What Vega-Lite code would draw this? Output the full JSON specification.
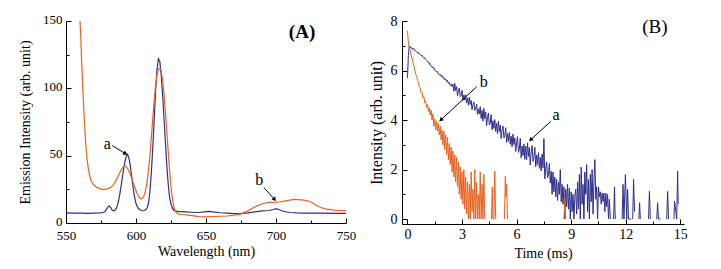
{
  "$schema": "https://vega.github.io/schema/vega-lite/v6.json",
  "padding": {"left": 18, "top": 13, "right": 5, "bottom": 5},
  "spacing": 12,
  "config": {
    "view": {"stroke": null},
    "font": "Liberation Serif",
    "axis": {"domainColor": "#000", "tickColor": "#000", "labelColor": "#000", "titleColor": "#000", "grid": false, "labelFont": "Liberation Serif", "titleFont": "Liberation Serif", "titleFontWeight": "normal", "labelFontSize": 13, "titleFontSize": 14, "domainWidth": 1, "tickWidth": 1, "labelFlush": false},
    "text": {"font": "Liberation Serif", "color": "#000"}
  },
  "datasets": {
    "spectra": [
      {"s":"a","wl":550,"I":7.5},{"s":"a","wl":555,"I":7.3},{"s":"a","wl":560,"I":7.4},{"s":"a","wl":565,"I":7.2},{"s":"a","wl":570,"I":7.4},{"s":"a","wl":574,"I":7.5},{"s":"a","wl":576,"I":7.6},{"s":"a","wl":578,"I":8.5},{"s":"a","wl":579,"I":10.5},{"s":"a","wl":580,"I":12},{"s":"a","wl":581,"I":12.6},{"s":"a","wl":582,"I":11.5},{"s":"a","wl":583,"I":9.5},{"s":"a","wl":584,"I":9},{"s":"a","wl":585,"I":9.5},{"s":"a","wl":586,"I":11},{"s":"a","wl":587,"I":14},{"s":"a","wl":588,"I":19},{"s":"a","wl":589,"I":25},{"s":"a","wl":590,"I":32},{"s":"a","wl":591,"I":39},{"s":"a","wl":592,"I":45},{"s":"a","wl":593,"I":49.5},{"s":"a","wl":594,"I":51},{"s":"a","wl":595,"I":48},{"s":"a","wl":596,"I":42},{"s":"a","wl":597,"I":34},{"s":"a","wl":598,"I":26},{"s":"a","wl":599,"I":19},{"s":"a","wl":600,"I":14.5},{"s":"a","wl":601,"I":12},{"s":"a","wl":602,"I":10.5},{"s":"a","wl":603,"I":9.8},{"s":"a","wl":604,"I":9.3},{"s":"a","wl":605,"I":9.1},{"s":"a","wl":606,"I":9.3},{"s":"a","wl":607,"I":10},{"s":"a","wl":608,"I":11.5},{"s":"a","wl":609,"I":15},{"s":"a","wl":610,"I":24},{"s":"a","wl":611,"I":38},{"s":"a","wl":612,"I":56},{"s":"a","wl":613,"I":77},{"s":"a","wl":614,"I":98},{"s":"a","wl":615,"I":114},{"s":"a","wl":616,"I":122},{"s":"a","wl":617,"I":120},{"s":"a","wl":618,"I":110},{"s":"a","wl":619,"I":95},{"s":"a","wl":620,"I":78},{"s":"a","wl":621,"I":60},{"s":"a","wl":622,"I":43},{"s":"a","wl":623,"I":29},{"s":"a","wl":624,"I":19},{"s":"a","wl":625,"I":14},{"s":"a","wl":626,"I":11},{"s":"a","wl":627,"I":9.5},{"s":"a","wl":628,"I":9},{"s":"a","wl":630,"I":8.6},{"s":"a","wl":635,"I":8.3},{"s":"a","wl":640,"I":8},{"s":"a","wl":645,"I":7.8},{"s":"a","wl":650,"I":8.4},{"s":"a","wl":652,"I":8.6},{"s":"a","wl":655,"I":8.2},{"s":"a","wl":660,"I":7.6},{"s":"a","wl":665,"I":7.3},{"s":"a","wl":670,"I":7},{"s":"a","wl":675,"I":7},{"s":"a","wl":680,"I":7.5},{"s":"a","wl":685,"I":8.3},{"s":"a","wl":690,"I":9},{"s":"a","wl":695,"I":9.3},{"s":"a","wl":698,"I":10},{"s":"a","wl":700,"I":10.6},{"s":"a","wl":702,"I":10},{"s":"a","wl":705,"I":8.7},{"s":"a","wl":710,"I":7.8},{"s":"a","wl":715,"I":7.5},{"s":"a","wl":720,"I":7.4},{"s":"a","wl":730,"I":7.3},{"s":"a","wl":740,"I":7.2},{"s":"a","wl":750,"I":7.1},
      {"s":"b","wl":560,"I":150},{"s":"b","wl":560.5,"I":140},{"s":"b","wl":561,"I":125},{"s":"b","wl":562,"I":100},{"s":"b","wl":563,"I":78},{"s":"b","wl":564,"I":60},{"s":"b","wl":565,"I":48},{"s":"b","wl":566,"I":40},{"s":"b","wl":567,"I":35},{"s":"b","wl":568,"I":31},{"s":"b","wl":570,"I":28},{"s":"b","wl":572,"I":26.5},{"s":"b","wl":574,"I":25.5},{"s":"b","wl":576,"I":25},{"s":"b","wl":578,"I":25},{"s":"b","wl":580,"I":25.5},{"s":"b","wl":582,"I":26.5},{"s":"b","wl":584,"I":28.5},{"s":"b","wl":586,"I":32},{"s":"b","wl":588,"I":36.5},{"s":"b","wl":590,"I":40.5},{"s":"b","wl":591,"I":42},{"s":"b","wl":592,"I":42.5},{"s":"b","wl":593,"I":42},{"s":"b","wl":594,"I":40.5},{"s":"b","wl":595,"I":38.5},{"s":"b","wl":596,"I":36},{"s":"b","wl":597,"I":33},{"s":"b","wl":598,"I":30},{"s":"b","wl":599,"I":27},{"s":"b","wl":600,"I":24},{"s":"b","wl":601,"I":21.5},{"s":"b","wl":602,"I":19.5},{"s":"b","wl":603,"I":18.3},{"s":"b","wl":604,"I":18},{"s":"b","wl":605,"I":19},{"s":"b","wl":606,"I":21},{"s":"b","wl":607,"I":25},{"s":"b","wl":608,"I":31},{"s":"b","wl":609,"I":40},{"s":"b","wl":610,"I":51},{"s":"b","wl":611,"I":64},{"s":"b","wl":612,"I":78},{"s":"b","wl":613,"I":91},{"s":"b","wl":614,"I":102},{"s":"b","wl":615,"I":110},{"s":"b","wl":616,"I":114},{"s":"b","wl":617,"I":115},{"s":"b","wl":618,"I":113},{"s":"b","wl":619,"I":106},{"s":"b","wl":620,"I":96},{"s":"b","wl":621,"I":83},{"s":"b","wl":622,"I":68},{"s":"b","wl":623,"I":53},{"s":"b","wl":624,"I":39},{"s":"b","wl":625,"I":27},{"s":"b","wl":626,"I":18},{"s":"b","wl":627,"I":12},{"s":"b","wl":628,"I":9},{"s":"b","wl":629,"I":7.5},{"s":"b","wl":630,"I":6.8},{"s":"b","wl":633,"I":6.3},{"s":"b","wl":636,"I":6},{"s":"b","wl":640,"I":5.5},{"s":"b","wl":645,"I":4.8},{"s":"b","wl":650,"I":4.5},{"s":"b","wl":655,"I":4.8},{"s":"b","wl":660,"I":5},{"s":"b","wl":665,"I":5.2},{"s":"b","wl":670,"I":5.8},{"s":"b","wl":675,"I":6.8},{"s":"b","wl":680,"I":9},{"s":"b","wl":685,"I":12},{"s":"b","wl":690,"I":14.3},{"s":"b","wl":695,"I":15.3},{"s":"b","wl":700,"I":15.5},{"s":"b","wl":703,"I":15.8},{"s":"b","wl":706,"I":16.3},{"s":"b","wl":710,"I":17},{"s":"b","wl":713,"I":17.5},{"s":"b","wl":716,"I":17.3},{"s":"b","wl":720,"I":17},{"s":"b","wl":723,"I":16.3},{"s":"b","wl":726,"I":15},{"s":"b","wl":729,"I":13},{"s":"b","wl":732,"I":11.5},{"s":"b","wl":735,"I":10.5},{"s":"b","wl":740,"I":9.7},{"s":"b","wl":745,"I":9.3},{"s":"b","wl":750,"I":9}
    ],
    "decay": [
      {"s":"a","t":0,"v":5.7},{"s":"a","t":0.05,"v":6.6},{"s":"a","t":0.1,"v":7.0},{"s":"a","t":0.15,"v":6.95},{"s":"a","t":0.2,"v":6.9},{"s":"a","t":0.25,"v":6.92},{"s":"a","t":0.3,"v":6.85},{"s":"a","t":0.35,"v":6.88},{"s":"a","t":0.4,"v":6.8},{"s":"a","t":0.45,"v":6.78},{"s":"a","t":0.5,"v":6.75},{"s":"a","t":0.55,"v":6.72},{"s":"a","t":0.6,"v":6.74},{"s":"a","t":0.65,"v":6.66},{"s":"a","t":0.7,"v":6.64},{"s":"a","t":0.75,"v":6.6},{"s":"a","t":0.8,"v":6.62},{"s":"a","t":0.85,"v":6.54},{"s":"a","t":0.9,"v":6.5},{"s":"a","t":0.95,"v":6.52},{"s":"a","t":1.0,"v":6.44},{"s":"a","t":1.05,"v":6.4},{"s":"a","t":1.1,"v":6.38},{"s":"a","t":1.15,"v":6.3},{"s":"a","t":1.2,"v":6.32},{"s":"a","t":1.25,"v":6.22},{"s":"a","t":1.3,"v":6.2},{"s":"a","t":1.35,"v":6.14},{"s":"a","t":1.4,"v":6.1},{"s":"a","t":1.45,"v":6.12},{"s":"a","t":1.5,"v":6.02},{"s":"a","t":1.55,"v":5.98},{"s":"a","t":1.6,"v":5.94},{"s":"a","t":1.65,"v":5.96},{"s":"a","t":1.7,"v":5.86},{"s":"a","t":1.75,"v":5.82},{"s":"a","t":1.8,"v":5.85},{"s":"a","t":1.85,"v":5.76},{"s":"a","t":1.9,"v":5.8},{"s":"a","t":1.95,"v":5.7},{"s":"a","t":2.0,"v":5.72},{"s":"a","t":2.05,"v":5.62},{"s":"a","t":2.1,"v":5.66},{"s":"a","t":2.15,"v":5.55},{"s":"a","t":2.2,"v":5.6},{"s":"a","t":2.25,"v":5.48},{"s":"a","t":2.3,"v":5.52},{"s":"a","t":2.35,"v":5.4},{"s":"a","t":2.4,"v":5.45},{"s":"a","t":2.45,"v":5.35},
      {"s":"a","t":2.5,"v":5.45},{"s":"a","t":2.55,"v":5.16},{"s":"a","t":2.6,"v":5.48},{"s":"a","t":2.65,"v":5.19},{"s":"a","t":2.7,"v":5.35},{"s":"a","t":2.75,"v":4.98},{"s":"a","t":2.8,"v":5.18},{"s":"a","t":2.85,"v":5.29},{"s":"a","t":2.9,"v":4.95},{"s":"a","t":2.95,"v":5.0},{"s":"a","t":3.0,"v":5.2},{"s":"a","t":3.05,"v":4.79},{"s":"a","t":3.1,"v":5.01},{"s":"a","t":3.15,"v":4.8},{"s":"a","t":3.2,"v":5.02},{"s":"a","t":3.25,"v":4.69},{"s":"a","t":3.3,"v":4.89},{"s":"a","t":3.35,"v":4.6},{"s":"a","t":3.4,"v":4.92},{"s":"a","t":3.45,"v":4.63},{"s":"a","t":3.5,"v":4.79},{"s":"a","t":3.55,"v":4.42},{"s":"a","t":3.6,"v":4.62},{"s":"a","t":3.65,"v":4.73},{"s":"a","t":3.7,"v":4.39},{"s":"a","t":3.75,"v":4.44},{"s":"a","t":3.8,"v":4.64},{"s":"a","t":3.85,"v":4.23},{"s":"a","t":3.9,"v":4.45},{"s":"a","t":3.95,"v":4.24},{"s":"a","t":4.0,"v":4.54},{"s":"a","t":4.05,"v":4.06},{"s":"a","t":4.1,"v":4.39},{"s":"a","t":4.15,"v":3.96},{"s":"a","t":4.2,"v":4.47},{"s":"a","t":4.25,"v":4.05},{"s":"a","t":4.3,"v":4.32},{"s":"a","t":4.35,"v":3.77},{"s":"a","t":4.4,"v":4.1},{"s":"a","t":4.45,"v":4.28},{"s":"a","t":4.5,"v":3.8},{"s":"a","t":4.55,"v":3.88},{"s":"a","t":4.6,"v":4.21},{"s":"a","t":4.65,"v":3.61},{"s":"a","t":4.7,"v":3.97},{"s":"a","t":4.75,"v":3.66},{"s":"a","t":4.8,"v":4.02},{"s":"a","t":4.85,"v":3.54},{"s":"a","t":4.9,"v":3.87},{"s":"a","t":4.95,"v":3.44},{"s":"a","t":5.0,"v":3.95},{"s":"a","t":5.05,"v":3.53},{"s":"a","t":5.1,"v":3.8},{"s":"a","t":5.15,"v":3.25},{"s":"a","t":5.2,"v":3.58},{"s":"a","t":5.25,"v":3.76},{"s":"a","t":5.3,"v":3.28},{"s":"a","t":5.35,"v":3.36},{"s":"a","t":5.4,"v":3.69},{"s":"a","t":5.45,"v":3.09},{"s":"a","t":5.5,"v":3.45},{"s":"a","t":5.55,"v":3.14},{"s":"a","t":5.6,"v":3.5},{"s":"a","t":5.65,"v":3.02},{"s":"a","t":5.7,"v":3.35},{"s":"a","t":5.75,"v":2.92},{"s":"a","t":5.8,"v":3.43},{"s":"a","t":5.85,"v":3.01},{"s":"a","t":5.9,"v":3.28},{"s":"a","t":5.95,"v":2.73},{"s":"a","t":6.0,"v":3.08},{"s":"a","t":6.05,"v":3.33},{"s":"a","t":6.1,"v":2.69},{"s":"a","t":6.15,"v":2.82},{"s":"a","t":6.2,"v":3.26},{"s":"a","t":6.25,"v":2.47},{"s":"a","t":6.3,"v":2.95},{"s":"a","t":6.35,"v":2.56},{"s":"a","t":6.4,"v":3.04},{"s":"a","t":6.45,"v":2.41},{"s":"a","t":6.5,"v":2.95},{"s":"a","t":6.55,"v":2.4},{"s":"a","t":6.6,"v":3.08},{"s":"a","t":6.65,"v":2.53},{"s":"a","t":6.7,"v":2.89},{"s":"a","t":6.75,"v":2.18},{"s":"a","t":6.8,"v":2.72},{"s":"a","t":6.85,"v":2.97},{"s":"a","t":6.9,"v":2.33},{"s":"a","t":6.95,"v":2.46},{"s":"a","t":7.0,"v":2.9},{"s":"a","t":7.05,"v":2.11},{"s":"a","t":7.1,"v":2.59},{"s":"a","t":7.15,"v":2.2},{"s":"a","t":7.2,"v":2.68},{"s":"a","t":7.25,"v":2.05},{"s":"a","t":7.3,"v":2.49},{"s":"a","t":7.35,"v":1.94},{"s":"a","t":7.4,"v":2.62},{"s":"a","t":7.45,"v":2.07},{"s":"a","t":7.5,"v":3.25},{"s":"a","t":7.55,"v":1.62},{"s":"a","t":7.6,"v":2.06},{"s":"a","t":7.65,"v":2.31},{"s":"a","t":7.7,"v":1.67},{"s":"a","t":7.75,"v":1.8},{"s":"a","t":7.8,"v":2.24},{"s":"a","t":7.85,"v":1.45},{"s":"a","t":7.9,"v":1.93},{"s":"a","t":7.95,"v":1.0},
      {"s":"a","t":8.0,"v":1.9},{"s":"a","t":8.05,"v":1.1},{"s":"a","t":8.1,"v":1.7},{"s":"a","t":8.15,"v":0.9},{"s":"a","t":8.2,"v":1.6},{"s":"a","t":8.25,"v":0.75},{"s":"a","t":8.3,"v":1.5},{"s":"a","t":8.35,"v":1.0},{"s":"a","t":8.4,"v":2.0},{"s":"a","t":8.45,"v":0.7},{"s":"a","t":8.5,"v":1.4},{"s":"a","t":8.55,"v":0.6},{"s":"a","t":8.6,"v":1.3},{"s":"a","t":8.65,"v":0},{"s":"a","t":8.7,"v":1.2},{"s":"a","t":8.75,"v":0.5},{"s":"a","t":8.8,"v":1.4},{"s":"a","t":8.85,"v":0.4},{"s":"a","t":8.9,"v":1.25},{"s":"a","t":8.95,"v":0},{"s":"a","t":9.0,"v":1.1},{"s":"a","t":9.05,"v":0.3},{"s":"a","t":9.1,"v":1.0},{"s":"a","t":9.15,"v":0},{"s":"a","t":9.2,"v":0.9},{"s":"a","t":9.25,"v":1.2},{"s":"a","t":9.3,"v":0.2},{"s":"a","t":9.35,"v":1.5},{"s":"a","t":9.4,"v":0.4},{"s":"a","t":9.45,"v":1.8},{"s":"a","t":9.5,"v":0},{"s":"a","t":9.55,"v":2.1},{"s":"a","t":9.6,"v":0.6},{"s":"a","t":9.65,"v":1.4},{"s":"a","t":9.7,"v":0},{"s":"a","t":9.75,"v":1.9},{"s":"a","t":9.8,"v":1.0},{"s":"a","t":9.85,"v":2.2},{"s":"a","t":9.9,"v":0.3},{"s":"a","t":9.95,"v":1.6},{"s":"a","t":10.0,"v":0},{"s":"a","t":10.05,"v":1.8},{"s":"a","t":10.1,"v":0.7},{"s":"a","t":10.15,"v":2.0},{"s":"a","t":10.2,"v":0.2},{"s":"a","t":10.25,"v":1.5},{"s":"a","t":10.3,"v":2.4},{"s":"a","t":10.35,"v":0.8},{"s":"a","t":10.4,"v":1.3},{"s":"a","t":10.45,"v":0},{"s":"a","t":10.5,"v":1.3},{"s":"a","t":10.55,"v":0.9},{"s":"a","t":10.6,"v":1.1},{"s":"a","t":10.65,"v":0.6},{"s":"a","t":10.7,"v":1.05},{"s":"a","t":10.75,"v":0.7},{"s":"a","t":10.8,"v":1.05},{"s":"a","t":10.85,"v":0.3},{"s":"a","t":10.9,"v":1.05},{"s":"a","t":10.95,"v":0.5},{"s":"a","t":11.0,"v":1.0},{"s":"a","t":11.05,"v":0},{"s":"a","t":11.1,"v":0.8},{"s":"a","t":11.15,"v":0},{"s":"a","t":11.2,"v":null},{"s":"a","t":11.33,"v":0},{"s":"a","t":11.38,"v":1.3},{"s":"a","t":11.42,"v":0},{"s":"a","t":11.5,"v":null},{"s":"a","t":11.8,"v":0},{"s":"a","t":11.85,"v":1.4},{"s":"a","t":11.9,"v":0},{"s":"a","t":11.98,"v":1.8},{"s":"a","t":12.05,"v":0},{"s":"a","t":12.1,"v":1.2},{"s":"a","t":12.15,"v":0},{"s":"a","t":12.3,"v":0},{"s":"a","t":12.35,"v":null},{"s":"a","t":12.38,"v":0},{"s":"a","t":12.43,"v":1.6},{"s":"a","t":12.48,"v":0.3},{"s":"a","t":12.5,"v":null},{"s":"a","t":12.72,"v":0},{"s":"a","t":12.76,"v":0.66},{"s":"a","t":12.8,"v":0},{"s":"a","t":12.9,"v":null},{"s":"a","t":13.25,"v":0},{"s":"a","t":13.3,"v":1.12},{"s":"a","t":13.35,"v":0},{"s":"a","t":13.4,"v":null},{"s":"a","t":13.7,"v":0},{"s":"a","t":13.75,"v":0.66},{"s":"a","t":13.8,"v":0},{"s":"a","t":13.9,"v":0},{"s":"a","t":13.95,"v":null},{"s":"a","t":14.25,"v":0},{"s":"a","t":14.3,"v":1.12},{"s":"a","t":14.35,"v":0},{"s":"a","t":14.4,"v":null},{"s":"a","t":14.65,"v":0},{"s":"a","t":14.68,"v":0.72},{"s":"a","t":14.72,"v":0.5},{"s":"a","t":14.8,"v":0},{"s":"a","t":14.85,"v":1.93},{"s":"a","t":14.88,"v":0.6},
      {"s":"b","t":0,"v":7.6},{"s":"b","t":0.05,"v":7.15},{"s":"b","t":0.1,"v":6.95},{"s":"b","t":0.15,"v":6.8},{"s":"b","t":0.2,"v":6.62},{"s":"b","t":0.25,"v":6.5},{"s":"b","t":0.3,"v":6.32},{"s":"b","t":0.35,"v":6.2},{"s":"b","t":0.4,"v":6.05},{"s":"b","t":0.45,"v":5.85},{"s":"b","t":0.5,"v":5.8},{"s":"b","t":0.55,"v":5.6},{"s":"b","t":0.6,"v":5.55},{"s":"b","t":0.65,"v":5.35},{"s":"b","t":0.7,"v":5.3},{"s":"b","t":0.75,"v":5.1},{"s":"b","t":0.8,"v":5.12},{"s":"b","t":0.85,"v":4.9},{"s":"b","t":0.9,"v":4.95},{"s":"b","t":0.95,"v":4.7},{"s":"b","t":1.0,"v":4.75},{"s":"b","t":1.05,"v":4.5},{"s":"b","t":1.1,"v":4.62},{"s":"b","t":1.15,"v":4.35},{"s":"b","t":1.2,"v":4.5},{"s":"b","t":1.25,"v":4.2},{"s":"b","t":1.3,"v":4.4},{"s":"b","t":1.35,"v":4.0},{"s":"b","t":1.4,"v":4.25},{"s":"b","t":1.45,"v":3.75},{"s":"b","t":1.5,"v":4.05},{"s":"b","t":1.55,"v":3.6},{"s":"b","t":1.6,"v":3.95},{"s":"b","t":1.65,"v":3.55},{"s":"b","t":1.7,"v":3.85},{"s":"b","t":1.75,"v":3.4},{"s":"b","t":1.8,"v":3.75},{"s":"b","t":1.85,"v":3.2},{"s":"b","t":1.9,"v":3.6},{"s":"b","t":1.95,"v":3.0},{"s":"b","t":2.0,"v":3.55},{"s":"b","t":2.05,"v":2.8},{"s":"b","t":2.1,"v":3.4},{"s":"b","t":2.15,"v":2.6},{"s":"b","t":2.2,"v":3.3},{"s":"b","t":2.25,"v":2.4},{"s":"b","t":2.3,"v":3.05},{"s":"b","t":2.35,"v":2.2},{"s":"b","t":2.4,"v":2.9},{"s":"b","t":2.45,"v":1.9},{"s":"b","t":2.5,"v":2.75},{"s":"b","t":2.55,"v":1.7},{"s":"b","t":2.6,"v":2.6},{"s":"b","t":2.65,"v":1.5},{"s":"b","t":2.7,"v":2.5},{"s":"b","t":2.75,"v":1.3},{"s":"b","t":2.8,"v":2.3},{"s":"b","t":2.85,"v":1.0},{"s":"b","t":2.9,"v":2.1},{"s":"b","t":2.95,"v":0.8},{"s":"b","t":3.0,"v":1.9},{"s":"b","t":3.05,"v":0.6},{"s":"b","t":3.1,"v":2.0},{"s":"b","t":3.15,"v":0.4},{"s":"b","t":3.2,"v":1.7},{"s":"b","t":3.25,"v":0.2},{"s":"b","t":3.3,"v":1.5},{"s":"b","t":3.35,"v":0},{"s":"b","t":3.4,"v":1.4},{"s":"b","t":3.45,"v":0},{"s":"b","t":3.5,"v":1.9},{"s":"b","t":3.55,"v":0.3},{"s":"b","t":3.6,"v":1.2},{"s":"b","t":3.65,"v":0},{"s":"b","t":3.7,"v":2.0},{"s":"b","t":3.75,"v":0},{"s":"b","t":3.8,"v":1.5},{"s":"b","t":3.85,"v":0},{"s":"b","t":3.9,"v":1.0},{"s":"b","t":3.95,"v":0},{"s":"b","t":4.0,"v":1.9},{"s":"b","t":4.05,"v":0},{"s":"b","t":4.1,"v":1.4},{"s":"b","t":4.15,"v":0},{"s":"b","t":4.2,"v":1.8},{"s":"b","t":4.25,"v":0},{"s":"b","t":4.3,"v":null},{"s":"b","t":4.62,"v":0},{"s":"b","t":4.66,"v":1.3},{"s":"b","t":4.7,"v":0},{"s":"b","t":4.75,"v":0},{"s":"b","t":4.8,"v":1.93},{"s":"b","t":4.85,"v":0},{"s":"b","t":4.9,"v":null},{"s":"b","t":5.33,"v":0},{"s":"b","t":5.38,"v":1.73},{"s":"b","t":5.42,"v":0.9},{"s":"b","t":5.45,"v":1.4},{"s":"b","t":5.5,"v":0},{"s":"b","t":5.55,"v":null},{"s":"b","t":8.6,"v":0},{"s":"b","t":8.66,"v":0.86},{"s":"b","t":8.7,"v":0},{"s":"b","t":8.75,"v":null}
    ],
    "labelsA": [{"x":579.5,"y":58.5,"t":"a"},{"x":688,"y":32,"t":"b"}],
    "arrowsA": [{"id":"a","x":583,"y":57.5,"x2":592.5,"y2":51.5},{"id":"b","x":691.4,"y":26.2,"x2":699,"y2":17.5}],
    "panelA": [{"x":718.6,"y":141.8,"t":"(A)"}],
    "labelsB": [{"x":4.2,"y":5.54,"t":"b"},{"x":8.17,"y":4.2,"t":"a"}],
    "arrowsB": [{"id":"b","x":3.8,"y":5.34,"x2":1.83,"y2":4.0},{"id":"a","x":7.87,"y":3.94,"x2":6.77,"y2":3.2}],
    "panelB": [{"x":13.6,"y":7.75,"t":"(B)"}]
  },
  "hconcat": [
    {
      "width": 280,
      "height": 202,
      "encoding": {
        "x": {"type": "quantitative", "scale": {"domain": [550, 750], "nice": false, "zero": false},
              "axis": {"title": "Wavelength (nm)", "values": [550,575,600,625,650,675,700,725,750], "labelExpr": "datum.value % 50 === 0 ? datum.label : ''", "tickSize": {"condition": {"test": "datum.value % 50 === 0", "value": -5}, "value": -3}, "labelPadding": 11, "titlePadding": 2}},
        "y": {"type": "quantitative", "scale": {"domain": [0, 150], "nice": false},
              "axis": {"title": "Emission Intensity (arb. unit)", "values": [0,25,50,75,100,125,150], "labelExpr": "datum.value % 50 === 0 ? datum.label : ''", "tickSize": {"condition": {"test": "datum.value % 50 === 0", "value": -5}, "value": -3}, "labelPadding": 9, "labelOffset": -2, "titlePadding": 10}}
      },
      "layer": [
        {
          "data": {"name": "spectra"},
          "mark": {"type": "line", "strokeWidth": 1.2, "clip": true},
          "encoding": {
            "x": {"field": "wl", "type": "quantitative", "title": "Wavelength (nm)"},
            "y": {"field": "I", "type": "quantitative", "title": "Emission Intensity (arb. unit)"},
            "color": {"field": "s", "type": "nominal", "scale": {"domain": ["a", "b"], "range": ["#2e2f8a", "#e8621e"]}, "legend": null}
          }
        },
        {
          "data": {"name": "arrowsA"},
          "mark": {"type": "rule", "color": "#000", "strokeWidth": 1},
          "encoding": {
            "x": {"field": "x", "type": "quantitative", "title": "Wavelength (nm)"},
            "y": {"field": "y", "type": "quantitative", "title": "Emission Intensity (arb. unit)"},
            "x2": {"field": "x2"},
            "y2": {"field": "y2"}
          }
        },
        {
          "data": {"name": "arrowsA"},
          "transform": [{"filter": "datum.id === 'a'"}],
          "mark": {"type": "point", "shape": "triangle-up", "filled": true, "color": "#000", "size": 22, "angle": 120, "opacity": 1},
          "encoding": {
            "x": {"field": "x2", "type": "quantitative", "title": "Wavelength (nm)"},
            "y": {"field": "y2", "type": "quantitative", "title": "Emission Intensity (arb. unit)"}
          }
        },
        {
          "data": {"name": "arrowsA"},
          "transform": [{"filter": "datum.id === 'b'"}],
          "mark": {"type": "point", "shape": "triangle-up", "filled": true, "color": "#000", "size": 22, "angle": 140, "opacity": 1},
          "encoding": {
            "x": {"field": "x2", "type": "quantitative", "title": "Wavelength (nm)"},
            "y": {"field": "y2", "type": "quantitative", "title": "Emission Intensity (arb. unit)"}
          }
        },
        {
          "data": {"name": "labelsA"},
          "mark": {"type": "text", "fontSize": 16, "baseline": "middle", "align": "center"},
          "encoding": {
            "x": {"field": "x", "type": "quantitative", "title": "Wavelength (nm)"},
            "y": {"field": "y", "type": "quantitative", "title": "Emission Intensity (arb. unit)"},
            "text": {"field": "t"}
          }
        },
        {
          "data": {"name": "panelA"},
          "mark": {"type": "text", "fontSize": 19, "fontWeight": "bold", "baseline": "middle", "align": "center"},
          "encoding": {
            "x": {"field": "x", "type": "quantitative", "title": "Wavelength (nm)"},
            "y": {"field": "y", "type": "quantitative", "title": "Emission Intensity (arb. unit)"},
            "text": {"field": "t"}
          }
        }
      ]
    },
    {
      "width": 282,
      "height": 203,
      "encoding": {
        "x": {"type": "quantitative", "scale": {"domain": [-0.3, 15.2], "nice": false, "zero": false},
              "axis": {"title": "Time (ms)", "values": [0,1.5,3,4.5,6,7.5,9,10.5,12,13.5,15], "labelExpr": "datum.value % 3 === 0 ? datum.label : ''", "tickSize": {"condition": {"test": "datum.value % 3 === 0", "value": -5}, "value": -3}, "labelPadding": 8, "titlePadding": 5, "labelFontSize": 14}},
        "y": {"type": "quantitative", "scale": {"domain": [-0.2, 8], "nice": false, "zero": false},
              "axis": {"title": "Intensity (arb. unit)", "values": [0,1,2,3,4,5,6,7,8], "labelExpr": "datum.value % 2 === 0 ? datum.label : ''", "tickSize": {"condition": {"test": "datum.value % 2 === 0", "value": -5}, "value": -3}, "labelPadding": 10, "titlePadding": 6, "labelFontSize": 14, "titleFontSize": 16}}
      },
      "layer": [
        {
          "data": {"name": "decay"},
          "mark": {"type": "line", "strokeWidth": 1, "clip": true, "invalid": "break-paths-filter-domains"},
          "encoding": {
            "x": {"field": "t", "type": "quantitative", "title": "Time (ms)"},
            "y": {"field": "v", "type": "quantitative", "title": "Intensity (arb. unit)"},
            "color": {"field": "s", "type": "nominal", "scale": {"domain": ["a", "b"], "range": ["#2e2f8a", "#e8621e"]}, "legend": null}
          }
        },
        {
          "data": {"name": "arrowsB"},
          "mark": {"type": "rule", "color": "#000", "strokeWidth": 1},
          "encoding": {
            "x": {"field": "x", "type": "quantitative", "title": "Time (ms)"},
            "y": {"field": "y", "type": "quantitative", "title": "Intensity (arb. unit)"},
            "x2": {"field": "x2"},
            "y2": {"field": "y2"}
          }
        },
        {
          "data": {"name": "arrowsB"},
          "mark": {"type": "point", "shape": "triangle-up", "filled": true, "color": "#000", "size": 22, "angle": 227, "opacity": 1},
          "encoding": {
            "x": {"field": "x2", "type": "quantitative", "title": "Time (ms)"},
            "y": {"field": "y2", "type": "quantitative", "title": "Intensity (arb. unit)"}
          }
        },
        {
          "data": {"name": "labelsB"},
          "mark": {"type": "text", "fontSize": 16, "baseline": "middle", "align": "center"},
          "encoding": {
            "x": {"field": "x", "type": "quantitative", "title": "Time (ms)"},
            "y": {"field": "y", "type": "quantitative", "title": "Intensity (arb. unit)"},
            "text": {"field": "t"}
          }
        },
        {
          "data": {"name": "panelB"},
          "mark": {"type": "text", "fontSize": 19, "baseline": "middle", "align": "center"},
          "encoding": {
            "x": {"field": "x", "type": "quantitative", "title": "Time (ms)"},
            "y": {"field": "y", "type": "quantitative", "title": "Intensity (arb. unit)"},
            "text": {"field": "t"}
          }
        }
      ]
    }
  ]
}
